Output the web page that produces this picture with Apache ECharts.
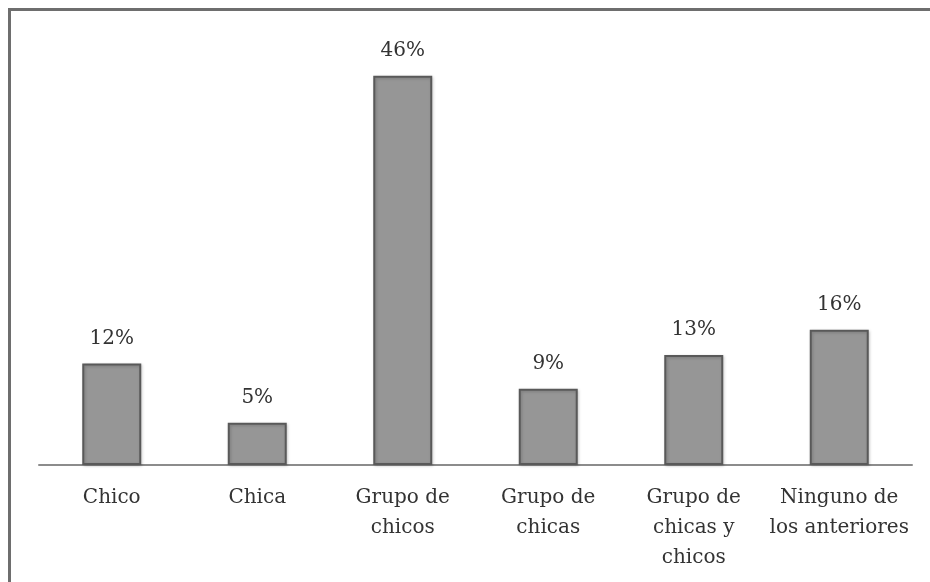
<!DOCTYPE html>
<html>
<head>
<meta charset="utf-8">
<script src="https://cdn.jsdelivr.net/npm/echarts@6/dist/echarts.min.js"></script>
<style>
  html, body { margin: 0; padding: 0; background: #fff; }
  #frame { position: absolute; left: 8px; top: 8px; width: 922px; height: 574px;
           border-top: 3px solid #6e6e6e; border-left: 3px solid #6e6e6e; }
  #main { position: absolute; left: 0; top: 0; width: 930px; height: 582px; }
</style>
</head>
<body>
<div id="frame"></div>
<div id="main"></div>
<script>
var categories = ['Chico', 'Chica', 'Grupo de\nchicos', 'Grupo de\nchicas', 'Grupo de\nchicas y\nchicos', 'Ninguno de\nlos anteriores']
var values = [12, 5, 46, 9, 13, 16]

var textFont = 'DejaVu Serif'
var chart = echarts.init(document.getElementById('main'))
var option = {
    animation: false,
    grid: { left: 39, right: 18, top: 42, bottom: 117 },
    xAxis: {
        type: 'category',
        data: categories,
        axisLine: { lineStyle: { color: '#8c8c8c', width: 2 } },
        axisTick: { show: false },
        axisLabel: {
            color: '#333',
            fontFamily: textFont,
            fontSize: 20,
            lineHeight: 30,
            margin: 18,
            interval: 0
        }
    },
    yAxis: {
        type: 'value',
        min: 0,
        max: 50,
        show: false,
        splitLine: { show: false }
    },
    series: [{
        type: 'bar',
        data: values,
        barWidth: 59,
        itemStyle: {
            color: '#969696',
            borderColor: '#595959',
            borderWidth: 2,
            shadowColor: 'rgba(0,0,0,0.2)',
            shadowBlur: 3,
            shadowOffsetX: 1,
            shadowOffsetY: 1
        },
        label: {
            show: true,
            position: 'top',
            distance: 15,
            formatter: '{c}%',
            color: '#333',
            fontFamily: textFont,
            fontSize: 20
        }
    }]
}
chart.setOption(option)
</script>
</body>
</html>
